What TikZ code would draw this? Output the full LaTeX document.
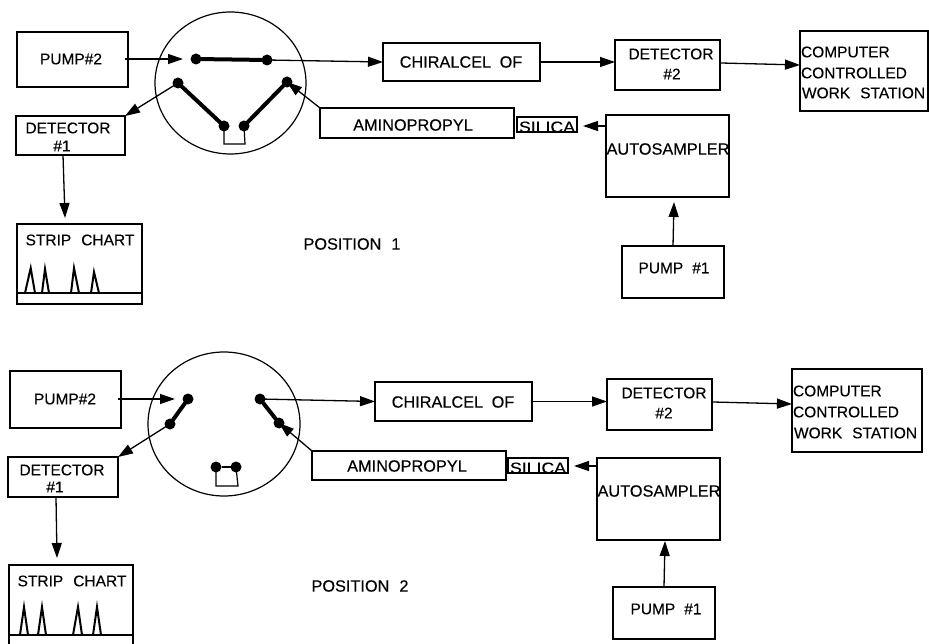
\documentclass[tikz,border=0pt]{standalone}
\usepackage{fontspec}
\setmainfont{Liberation Sans}[FakeBold=0.25]
\usetikzlibrary{arrows.meta,shapes.geometric}
\newcommand{\boxat}[5]{% name x1 y1 x2 y2
  \pgfmathsetmacro{\bw}{#4-#2}\pgfmathsetmacro{\bh}{#5-#3}
  \pgfmathsetmacro{\bx}{(#2+#4)/2}\pgfmathsetmacro{\by}{(#3+#5)/2}
  \node[boxn,minimum width=\bw pt,minimum height=\bh pt] (#1) at (\bx,\by) {};}
\newcommand{\wgap}{\hspace{10pt}}
\tikzset{
  boxn/.style={draw=black,line width=1.3pt,rectangle,inner sep=0pt,outer sep=0pt,fill=white},
  txt/.style={font=\fontsize{15.5}{18}\selectfont,inner sep=0pt,outer sep=0pt,text=black},
  txtw/.style={txt,font=\fontsize{16.3}{18}\selectfont},
  txtl/.style={txt,anchor=west},
  sil/.style={txt,font=\fontsize{15.5}{18}\selectfont,xscale=1.14},
  valve/.style={draw=black,line width=1.2pt,ellipse,inner sep=0pt,outer sep=0pt},
  port/.style={circle,fill=black,draw=none,minimum size=11pt,inner sep=0pt,outer sep=0pt},
  link/.style={line width=4pt,line cap=round},
  thinlink/.style={line width=1.2pt},
  flow/.style={line width=1.3pt,-{Triangle[length=15pt,width=10pt]}},
  peak/.style={line width=2pt,line join=miter}
}
\begin{document}
\begin{tikzpicture}[x=1pt,y=-1pt]
\useasboundingbox (0,0) rectangle (929,644);
\clip (0,0) rectangle (929,644);
\fill[white] (0,0) rectangle (929,644);

% ---------- POSITION 1 ----------
\node[valve,minimum width=151pt,minimum height=142pt] (v1) at (230.5,83) {};
\boxat{pumpB1}{17}{32}{128}{87}
\node[txt] (pumpB1t) at (71,59) {PUMP\#2};
\boxat{chir1}{383}{43}{540}{81}
\node[txtw] (chir1t) at (461,62) {CHIRALCEL\hspace{4pt} OF};
\boxat{detB1}{615}{40}{720}{90}
\node[txt] (detB1t) at (671,54) {DETECTOR};
\node[txt] (detB1n) at (672,74) {\#2};
\boxat{comp1}{800}{31}{928}{111}
\node[txtl] (comp1a) at (801,52) {COMPUTER};
\node[txtl] (comp1b) at (801,73) {CONTROLLED};
\node[txtl] (comp1c) at (802,93) {WORK\wgap STATION};
\boxat{amin1}{320}{108}{514}{138}
\node[txtw] (amin1t) at (413,125) {AMINOPROPYL};
\boxat{sil1}{517}{117}{577}{132}
\node[sil] (sil1t) at (547,127) {SILICA};
\boxat{auto1}{606}{115}{729}{197}
\node[txtw] (auto1t) at (668,149) {AUTOSAMPLER};
\boxat{pumpA1}{622}{246}{724}{298}
\node[txt] (pumpA1t) at (674,268) {PUMP\hspace{9pt}\#1};
\boxat{detA1}{16}{116}{125}{155}
\node[txt] (detA1t) at (68,128) {DETECTOR};
\node[txt] (detA1n) at (62,146) {\#1};
\boxat{strip1}{17}{224}{142}{304}
\node[txt] (strip1t) at (80,240) {STRIP\wgap CHART};
\node[txtw] (pos1) at (352,244) {POSITION\wgap 1};

\node[port] (a1) at (196,59) {};
\node[port] (b1) at (267,60) {};
\node[port] (c1) at (178,83) {};
\node[port] (d1) at (287,82) {};
\node[port] (e1) at (224,126) {};
\node[port] (f1) at (244,126) {};
\draw[link] (a1) -- (b1);
\draw[link] (c1) -- (e1);
\draw[link] (d1) -- (f1);
\draw[thinlink] (e1.center) -- (224,144) -- (245,144) -- (f1.center);

\coordinate (pumpB1s) at (125,59);
\coordinate (a1in) at (183,59);
\draw[flow] (pumpB1s) -- (a1in);
\draw[flow] (b1.center) -- (chir1.west);
\draw[flow] (chir1.east) -- (detB1.west |- chir1.east);
\draw[flow] (721,63) -- (comp1.west |- 0,65);
\draw[flow] (c1.center) -- (detA1.north east);
\coordinate (detA1s) at (63,155);
\coordinate (strip1e) at (65,218);
\draw[flow] (detA1s) -- (strip1e);
\draw[flow] (amin1.north west) -- (d1.center);
\coordinate (auto1s) at (606,126);
\coordinate (sil1e) at (583,126);
\draw[flow] (auto1s) -- (sil1e);
\coordinate (pumpA1s) at (673,246);
\coordinate (auto1e) at (674,202);
\draw[flow] (pumpA1s) -- (auto1e);

\draw[line width=1.3pt] (17,293) -- (142,293);
\draw[peak] (25,293) -- (30.7,268) -- (35,293);
\draw[peak] (42,293) -- (45,269) -- (49,293);
\draw[peak] (71,293) -- (74,268) -- (79,293);
\draw[peak] (91,293) -- (94,272) -- (99,293);

% ---------- POSITION 2 ----------
\node[valve,minimum width=152pt,minimum height=144pt] (v2) at (224,424) {};
\boxat{pumpB2}{10}{371}{121}{428}
\node[txt] (pumpB2t) at (65,399) {PUMP\#2};
\boxat{chir2}{375}{382}{532}{421}
\node[txtw] (chir2t) at (453,402) {CHIRALCEL\hspace{4pt} OF};
\boxat{detB2}{607}{379}{712}{430}
\node[txt] (detB2t) at (664,393) {DETECTOR};
\node[txt] (detB2n) at (664,413) {\#2};
\boxat{comp2}{792}{369}{922}{452}
\node[txtl] (comp2a) at (793,391) {COMPUTER};
\node[txtl] (comp2b) at (793,412) {CONTROLLED};
\node[txtl] (comp2c) at (794,433) {WORK\wgap STATION};
\boxat{amin2}{312}{451}{506}{480}
\node[txtw] (amin2t) at (407,466) {AMINOPROPYL};
\boxat{sil2}{508}{458}{568}{473}
\node[sil] (sil2t) at (538,468) {SILICA};
\boxat{auto2}{597}{458}{720}{540}
\node[txtw] (auto2t) at (659,491) {AUTOSAMPLER};
\boxat{pumpA2}{613}{587}{715}{639}
\node[txt] (pumpA2t) at (666,609) {PUMP\hspace{9pt}\#1};
\boxat{detA2}{8}{457}{118}{497}
\node[txt] (detA2t) at (62,470) {DETECTOR};
\node[txt] (detA2n) at (55,487) {\#1};
\boxat{strip2}{9}{565}{133}{660}
\node[txt] (strip2t) at (72,581) {STRIP\wgap CHART};
\node[txtw] (pos2) at (360,586) {POSITION\wgap 2};

\node[port] (a2) at (188,399) {};
\node[port] (b2) at (260,399) {};
\node[port] (c2) at (170,424) {};
\node[port] (d2) at (279,423) {};
\node[port] (e2) at (216,467) {};
\node[port] (f2) at (236,467) {};
\draw[link] (a2) -- (c2);
\draw[link] (b2) -- (d2);
\draw[line width=2pt] (e2) -- (f2);
\draw[thinlink] (e2.center) -- (216,486) -- (238,486) -- (f2.center);

\coordinate (pumpB2s) at (118,399);
\coordinate (a2in) at (175,399);
\draw[flow] (pumpB2s) -- (a2in);
\draw[flow] (b2.center) -- (chir2.west);
\draw[flow] (chir2.east) -- (detB2.west |- chir2.east);
\draw[flow] (713,402) -- (comp2.west |- 0,404);
\draw[flow] (c2.center) -- (detA2.north east);
\coordinate (detA2s) at (56,497);
\coordinate (strip2e) at (57,558);
\draw[flow] (detA2s) -- (strip2e);
\draw[flow] (amin2.north west) -- (d2.center);
\coordinate (auto2s) at (597,466);
\coordinate (sil2e) at (574,466);
\draw[flow] (auto2s) -- (sil2e);
\coordinate (pumpA2s) at (664,587);
\coordinate (auto2e) at (665,541);
\draw[flow] (pumpA2s) -- (auto2e);

\draw[line width=1.3pt] (9,635) -- (133,635);
\draw[peak] (20,635) -- (24,607) -- (28,635);
\draw[peak] (38,635) -- (42,607) -- (46,635);
\draw[peak] (73,635) -- (78,607) -- (82,635);
\draw[peak] (93,635) -- (97,607) -- (101,635);
\end{tikzpicture}
\end{document}
